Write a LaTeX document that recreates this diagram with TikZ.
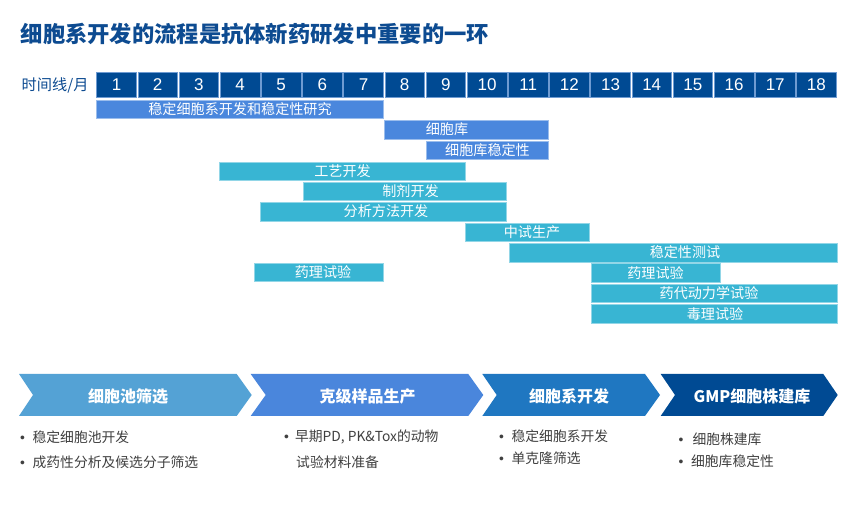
\documentclass[tikz,border=0pt]{standalone}
\usepackage{fontspec}
\setmainfont{Noto Sans CJK SC}
\newfontfamily\numfont{Liberation Sans}
\definecolor{titleblue}{HTML}{0D4B91}
\definecolor{hdrblue}{HTML}{004A93}
\definecolor{hdrline}{HTML}{6E9BD2}
\definecolor{barblue}{HTML}{4A87DD}
\definecolor{barcyan}{HTML}{38B5D3}
\definecolor{chevA}{HTML}{54A2D5}
\definecolor{chevB}{HTML}{4A86DC}
\definecolor{chevC}{HTML}{1F77C1}
\definecolor{chevD}{HTML}{004A93}
\definecolor{bulletgray}{HTML}{404040}
\newcommand\gbar[7]{%
  \node[#7, minimum width={#3-#2}, anchor=north west] (#1) at (#2,#4) {};
  \node[bartext] (#1t) at (#6,{#4+9.3}) {#5};}
\begin{document}
\begin{tikzpicture}[x=1pt,y=-1pt,
  hdr/.style={fill=hdrblue, draw=hdrline, line width=0.6pt, minimum width=39.6pt, minimum height=25.5pt, inner sep=0pt, anchor=north west, text=white, font=\numfont\fontsize{17}{17}\selectfont},
  barB/.style={fill=barblue, draw=barblue!55!white, line width=0.7pt, minimum height=18.5pt, inner sep=0pt},
  barC/.style={fill=barcyan, draw=barcyan!55!white, line width=0.7pt, minimum height=18.5pt, inner sep=0pt},
  bartext/.style={text=white, inner sep=0pt, font=\fontsize{14.1}{14}\selectfont},
  chevtext/.style={text=white, inner sep=0pt, font=\bfseries\fontsize{16}{16}\selectfont},
  bul/.style={text=bulletgray, anchor=west, inner sep=0pt, font=\fontsize{13.8}{14}\selectfont}]
\useasboundingbox[fill=white] (0,0) rectangle (860,526);

% title
\node[anchor=west, inner sep=0pt, text=titleblue, font=\bfseries\fontsize{22.3}{23}\selectfont] (title) at (20.5,34) {细胞系开发的流程是抗体新药研发中重要的一环};

% timeline header
\node[anchor=west, inner sep=0pt, text=titleblue, font=\fontsize{15.2}{15}\selectfont] (tl) at (21.5,85) {时间线/月};
\foreach \i in {1,...,18} {
  \node[hdr] (h\i) at ({96+(\i-1)*41.17+0.4}, 72) {\i};
}

% bars
\gbar{b1}{96}{382.5}{100}{稳定细胞系开发和稳定性研究}{240}{barB}
\gbar{b2}{384.3}{547.7}{120.3}{细胞库}{447}{barB}
\gbar{b3}{425.7}{547.7}{141}{细胞库稳定性}{487.5}{barB}
\gbar{b4}{219}{465}{161.7}{工艺开发}{342.5}{barC}
\gbar{b5}{302.7}{506.3}{181.7}{制剂开发}{410.5}{barC}
\gbar{b6}{260.3}{506.3}{202.3}{分析方法开发}{386}{barC}
\gbar{b7}{464.7}{588.7}{222.7}{中试生产}{532}{barC}
\gbar{b8}{509.3}{836.7}{243.3}{稳定性测试}{685}{barC}
\gbar{b9}{253.7}{382.7}{263}{药理试验}{323}{barC}
\gbar{b10}{591}{719.7}{263.5}{药理试验}{655.5}{barC}
\gbar{b11}{591}{836.7}{284}{药代动力学试验}{709}{barC}
\gbar{b12}{591}{836.7}{304.3}{毒理试验}{715}{barC}

% chevrons
\fill[chevA] (19,374) -- (236.7,374) -- (251.7,395) -- (236.7,416) -- (19,416) -- (33,395) -- cycle;
\fill[chevB] (250.7,374) -- (468.3,374) -- (483.3,395) -- (468.3,416) -- (250.7,416) -- (265.7,395) -- cycle;
\fill[chevC] (482.3,374) -- (645,374) -- (660,395) -- (645,416) -- (482.3,416) -- (496.7,395) -- cycle;
\fill[chevD] (660.7,374) -- (823.3,374) -- (837.7,395) -- (823.3,416) -- (660.7,416) -- (675,395) -- cycle;
\node[chevtext] (c1) at (128,396) {细胞池筛选};
\node[chevtext] (c2) at (367.5,396) {克级样品生产};
\node[chevtext] (c3) at (569,396) {细胞系开发};
\node[chevtext] (c4) at (752,396) {GMP细胞株建库};

% bullets
\node[bul] (p1a) at (20,437) {{\numfont •}\hspace{7.6pt}稳定细胞池开发};
\node[bul] (p1b) at (20,462) {{\numfont •}\hspace{7.6pt}成药性分析及候选分子筛选};
\node[bul] (p2a) at (284,437) {{\numfont •}\hspace{6pt}早期PD, PK\&Tox的动物};
\node[bul] (p2b) at (296,462) {试验材料准备};
\node[bul] (p3a) at (499,436) {{\numfont •}\hspace{7.6pt}稳定细胞系开发};
\node[bul] (p3b) at (499,458) {{\numfont •}\hspace{7.6pt}单克隆筛选};
\node[bul] (p4a) at (678.5,439) {{\numfont •}\hspace{9pt}细胞株建库};
\node[bul] (p4b) at (678.5,461) {{\numfont •}\hspace{7.6pt}细胞库稳定性};
\end{tikzpicture}
\end{document}
